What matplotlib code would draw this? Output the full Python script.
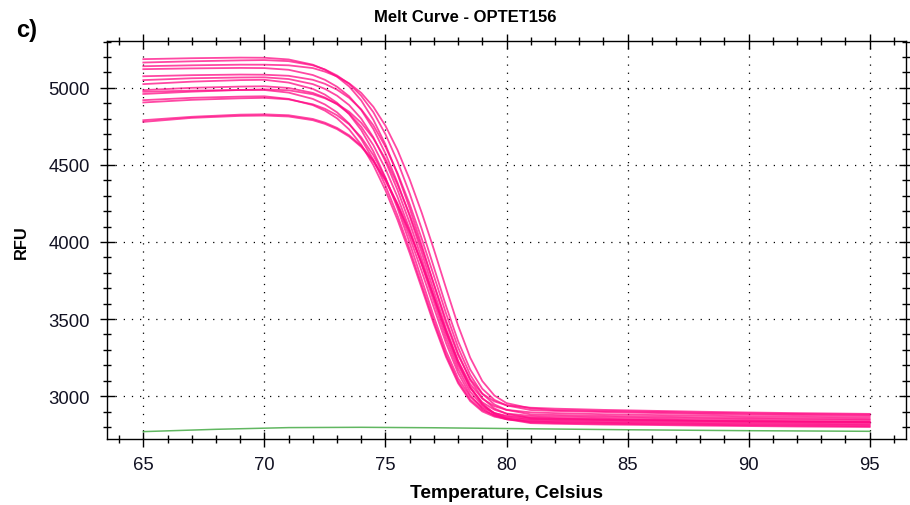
import numpy as np
import matplotlib
matplotlib.use('Agg')
import matplotlib.pyplot as plt

plt.rcParams['font.family'] = ['Liberation Sans', 'DejaVu Sans']

# melt temperatures (deg C) shared by every well
temps = [65, 67, 69, 70, 71, 72, 72.5, 73, 73.5, 74, 74.5, 75, 75.5, 76, 76.5,
         77, 77.5, 78, 78.5, 79, 79.5, 80, 81, 82, 84, 86, 88, 90, 92, 95]

# RFU readings for each sample well
well_a = [5186, 5192, 5196, 5195, 5184, 5150, 5118, 5072, 5009, 4918, 4793, 4632, 4439, 4219, 3978,
          3724, 3477, 3266, 3111, 3016, 2966, 2941, 2925, 2919, 2911, 2905, 2899, 2894, 2890, 2885]
well_b = [5164, 5172, 5178, 5180, 5173, 5146, 5119, 5080, 5026, 4948, 4842, 4699, 4522, 4315, 4084,
          3836, 3586, 3357, 3173, 3048, 2976, 2940, 2910, 2904, 2897, 2891, 2885, 2880, 2877, 2872]
well_m = [5140, 5146, 5150, 5150, 5146, 5128, 5105, 5074, 5029, 4967, 4877, 4754, 4596, 4406, 4189,
          3952, 3702, 3458, 3250, 3098, 3004, 2955, 2921, 2910, 2903, 2898, 2892, 2888, 2884, 2880]
well_c = [5121, 5126, 5129, 5128, 5117, 5083, 5052, 5007, 4945, 4856, 4733, 4574, 4384, 4168, 3931,
          3681, 3438, 3230, 3078, 2984, 2935, 2911, 2895, 2890, 2883, 2878, 2874, 2869, 2866, 2862]
well_d = [5075, 5082, 5086, 5085, 5078, 5052, 5026, 4988, 4935, 4860, 4757, 4618, 4446, 4246, 4021,
          3781, 3538, 3316, 3138, 3016, 2946, 2911, 2882, 2878, 2872, 2867, 2863, 2859, 2856, 2852]
well_e = [5050, 5062, 5067, 5068, 5057, 5024, 4993, 4949, 4888, 4800, 4679, 4523, 4337, 4124, 3891,
          3645, 3406, 3201, 3052, 2960, 2912, 2887, 2872, 2868, 2863, 2858, 2854, 2851, 2848, 2845]
well_f = [5024, 5040, 5050, 5052, 5034, 4993, 4956, 4903, 4829, 4726, 4588, 4417, 4218, 3994, 3756,
          3515, 3293, 3116, 2996, 2926, 2890, 2873, 2862, 2858, 2853, 2848, 2844, 2841, 2838, 2835]
well_g = [4985, 5000, 5008, 5010, 4999, 4967, 4937, 4893, 4833, 4747, 4628, 4475, 4291, 4082, 3853,
          3612, 3376, 3176, 3029, 2938, 2891, 2867, 2852, 2849, 2845, 2842, 2839, 2836, 2834, 2832]
well_n = [4960, 4975, 4986, 4990, 4984, 4958, 4932, 4896, 4845, 4773, 4672, 4538, 4372, 4178, 3960,
          3728, 3493, 3278, 3105, 2988, 2920, 2886, 2858, 2854, 2849, 2845, 2841, 2838, 2835, 2832]
well_h = [4974, 4982, 4986, 4986, 4969, 4928, 4892, 4841, 4768, 4667, 4533, 4366, 4171, 3953, 3720,
          3485, 3269, 3096, 2978, 2910, 2876, 2859, 2848, 2845, 2840, 2837, 2834, 2831, 2829, 2826]
well_i = [4920, 4935, 4943, 4945, 4928, 4888, 4852, 4802, 4730, 4631, 4499, 4335, 4143, 3928, 3699,
          3467, 3255, 3084, 2968, 2901, 2867, 2851, 2840, 2837, 2832, 2829, 2826, 2823, 2821, 2818]
well_j = [4905, 4922, 4932, 4935, 4925, 4893, 4864, 4822, 4763, 4679, 4563, 4414, 4236, 4032, 3809,
          3574, 3345, 3150, 3007, 2919, 2873, 2850, 2835, 2832, 2827, 2824, 2820, 2817, 2815, 2812]
well_k = [4790, 4812, 4826, 4828, 4822, 4798, 4774, 4740, 4692, 4624, 4530, 4404, 4249, 4067, 3863,
          3645, 3425, 3224, 3062, 2952, 2888, 2856, 2830, 2826, 2821, 2818, 2814, 2811, 2808, 2805]
well_l = [4779, 4805, 4818, 4820, 4814, 4790, 4766, 4732, 4684, 4617, 4523, 4397, 4241, 4060, 3856,
          3639, 3420, 3218, 3056, 2947, 2883, 2851, 2825, 2821, 2816, 2813, 2809, 2806, 2803, 2800]

wells = [well_a, well_b, well_m, well_c, well_d, well_e, well_f,
         well_g, well_n, well_h, well_i, well_j, well_k, well_l]

# no-template control
ntc_temps = [65, 68, 71, 74, 77, 80, 85, 90, 95]
ntc_rfu = [2770, 2785, 2796, 2798, 2795, 2790, 2782, 2776, 2772]

fig = plt.figure(figsize=(9.10, 5.06), dpi=100)
ax = fig.add_axes([0.1176, 0.1304, 0.878, 0.787])

ax.plot(ntc_temps, ntc_rfu, color='#3aa53a', lw=1.1, alpha=0.8, zorder=3)
for w in wells:
    ax.plot(temps, w, color='#ff0a85', lw=1.3, alpha=0.75, zorder=4)

ax.set_xlim(63.5, 96.5)
ax.set_ylim(2722, 5305)
ax.set_xticks(np.arange(65, 96, 5))
ax.set_xticks(np.arange(64, 97, 1), minor=True)
ax.set_yticks(np.arange(3000, 5001, 500))
ax.set_yticks(np.arange(2800, 5301, 100), minor=True)

ax.tick_params(which='major', direction='inout', length=10.8, width=1.0,
               top=True, right=True, labelsize=13.3, colors='black', labelcolor='#111122')
ax.tick_params(which='minor', direction='inout', length=5.8, width=1.0,
               top=True, right=True)
ax.tick_params(axis='y', which='major', pad=7)
ax.tick_params(axis='x', which='major', pad=6.5)
for s in ax.spines.values():
    s.set_linewidth(1.0)

ax.grid(True, which='major', color='black', lw=0.9, linestyle=(0, (1, 5.5)), zorder=1)

fig.text(0.511, 0.966, 'Melt Curve - OPTET156', ha='center', va='center',
         fontsize=12, fontweight='bold')
fig.text(0.5566, 1 - 494 / 506, 'Temperature, Celsius', ha='center', va='center',
         fontsize=13.8, fontweight='bold')
fig.text(0.023, 0.522, 'RFU', ha='center', va='center', rotation=90,
         fontsize=11.8, fontweight='bold')
fig.text(0.018, 0.94, 'c)', ha='left', va='center', fontsize=17, fontweight='bold')

fig.savefig('out.png', dpi=100)
